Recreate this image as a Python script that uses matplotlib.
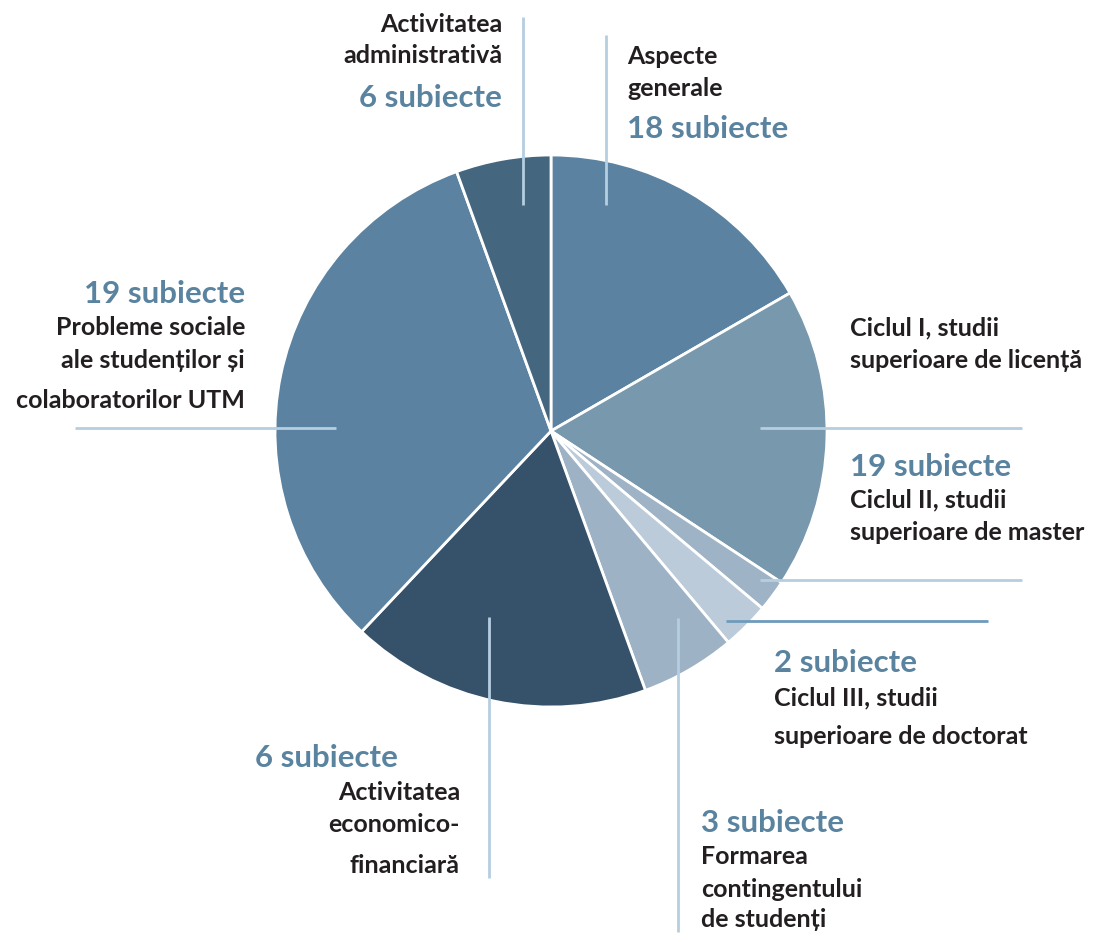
import matplotlib
matplotlib.use("Agg")
import matplotlib.pyplot as plt

# ------------------ Data ------------------
categories = ["Aspecte generale", "Ciclul I", "Ciclul II", "Ciclul III",
              "Formarea contingentului", "Activitatea economico-financiară",
              "Probleme sociale", "Activitatea administrativă"]
values = [18, 19, 2, 3, 6, 19, 35, 6]
colors = ["#5b82a0", "#7898ae", "#9fb3c6", "#bccbd9",
          "#9eb2c5", "#36516a", "#5b82a0", "#44667f"]

# label blocks: (number text, name lines, x, name baselines, number baseline, align)
labels = [
    ("6 subiecte", ["Activitatea", "administrativă"], 502, [32, 63], 107, "right"),
    ("18 subiecte", ["Aspecte", "generale"], 627, [64, 96], 138, "left"),
    ("19 subiecte", ["Ciclul II, studii", "superioare de master"], 850, [507, 540], 476, "left"),
    ("2 subiecte", ["Ciclul III, studii", "superioare de doctorat"], 774, [705, 744], 672, "left"),
    ("3 subiecte", ["Formarea", "contingentului", "de studenți"], 701, [864, 897, 927], 832, "left"),
    ("19 subiecte", ["Probleme sociale", "ale studenților și", "colaboratorilor UTM"], 245, [335, 368, 408], 303, "right"),
]
extra_names = [(["Ciclul I, studii", "superioare de licență"], 850, [335, 368], "left"),
               (["Activitatea", "economico-", "financiară"], 460, [800, 832, 873], "right")]
econ_number = ("6 subiecte", 255, 767)

# leader lines in image pixels: (x0, y0, x1, y1, color)
light = "#b5cee0"
leaders = [
    (523, 17, 523, 205, light),
    (606, 35, 606, 205, light),
    (760, 428, 1022, 428, light),
    (760, 580, 1022, 580, light),
    (726, 621, 988, 621, "#6e9bbb"),
    (678, 618, 678, 932, light),
    (489, 617, 489, 878, light),
    (75, 428, 336, 428, light),
]

W, H = 1100, 934
def Y(y):
    return H - y

plt.rcParams["font.family"] = ["Lato", "DejaVu Sans"]
num_color = "#5a83a0"
txt_color = "#231f20"
name_size = 18
num_size = 22.5

fig = plt.figure(figsize=(W / 100, H / 100), dpi=100)
ax = fig.add_axes([0, 0, 1, 1])
ax.axis("off")

ax.pie(values, colors=colors, startangle=90, counterclock=False,
       center=(551, Y(431)), radius=276,
       wedgeprops=dict(edgecolor="white", linewidth=2))
ax.set_xlim(0, W)
ax.set_ylim(0, H)
ax.set_aspect("auto")

for x0, y0, x1, y1, c in leaders:
    ax.plot([x0, x1], [Y(y0), Y(y1)], color=c, lw=2, zorder=5, solid_capstyle="butt")

for num, names, x, ys, ynum, ha in labels:
    ax.text(x, Y(ynum), num, color=num_color, fontsize=num_size, fontweight="bold",
            ha=ha, va="baseline")
    for line, y in zip(names, ys):
        ax.text(x, Y(y), line, color=txt_color, fontsize=name_size, fontweight="bold",
                ha=ha, va="baseline")

for names, x, ys, ha in extra_names:
    for line, y in zip(names, ys):
        ax.text(x, Y(y), line, color=txt_color, fontsize=name_size, fontweight="bold",
                ha=ha, va="baseline")

ax.text(econ_number[1], Y(econ_number[2]), econ_number[0], color=num_color,
        fontsize=num_size, fontweight="bold", ha="left", va="baseline")

fig.savefig("out.png", dpi=100, facecolor="white")
